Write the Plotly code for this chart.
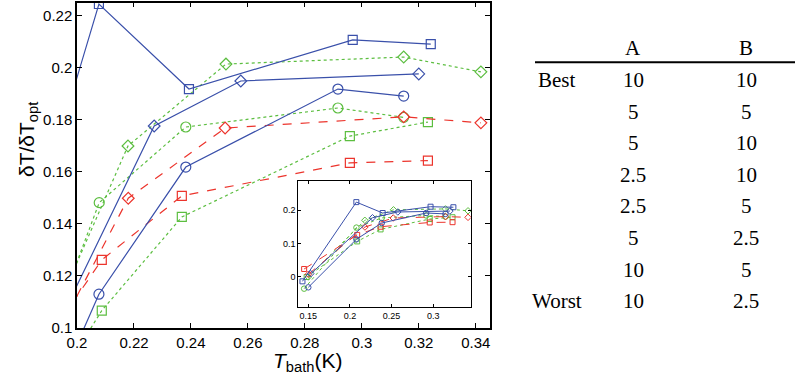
import plotly.graph_objects as go

W, H = 796, 383

# ---- data ----
bsq_x = [0.143, 0.2077, 0.2393, 0.2968, 0.3242]
bsq_y = [-0.013, 0.2246, 0.1919, 0.2108, 0.2092]
bdi_x = [0.153, 0.2271, 0.2575, 0.3200]
bdi_y = [0.010, 0.1777, 0.1950, 0.1977]
bci_x = [0.150, 0.2077, 0.2382, 0.2916, 0.3147]
bci_y = [-0.031, 0.1130, 0.1619, 0.1919, 0.1892]
gdi_x = [0.150, 0.2179, 0.2523, 0.3147, 0.3418]
gdi_y = [0.000, 0.1700, 0.2015, 0.2042, 0.1985]
gci_x = [0.145, 0.2078, 0.2382, 0.2916, 0.3147]
gci_y = [-0.035, 0.1482, 0.1773, 0.1846, 0.1810]
gsq_x = [0.148, 0.2087, 0.2368, 0.2958, 0.3232]
gsq_y = [0.000, 0.1067, 0.1427, 0.1738, 0.1792]
rdi_x = [0.150, 0.2180, 0.2520, 0.3147, 0.3418]
rdi_y = [0.008, 0.1499, 0.1769, 0.1812, 0.1789]
rsq_x = [0.145, 0.2087, 0.2368, 0.2958, 0.3232]
rsq_y = [0.024, 0.1262, 0.1508, 0.1635, 0.1644]

main_xticks = [0.2, 0.22, 0.24, 0.26, 0.28, 0.3, 0.32, 0.34]
main_xlabels = ["0.2", "0.22", "0.24", "0.26", "0.28", "0.3", "0.32", "0.34"]
main_yticks = [0.1, 0.12, 0.14, 0.16, 0.18, 0.2, 0.22]
main_ylabels = ["0.1", "0.12", "0.14", "0.16", "0.18", "0.2", "0.22"]
inset_xticks = [0.15, 0.2, 0.25, 0.3]
inset_xlabels = ["0.15", "0.2", "0.25", "0.3"]
inset_yticks = [0, 0.1, 0.2]
inset_ylabels = ["0", "0.1", "0.2"]

table_header = ["A", "B"]
table_rows = ["Best", "", "", "", "", "", "", "Worst"]
table_A = ["10", "5", "5", "2.5", "2.5", "5", "10", "10"]
table_B = ["10", "5", "10", "10", "5", "2.5", "5", "2.5"]

BLUE = "rgb(58,80,170)"
GREEN = "rgb(92,190,64)"
RED = "rgb(236,52,44)"

series = [
    (gdi_x, gdi_y, GREEN, "dot", "diamond-open"),
    (gci_x, gci_y, GREEN, "dot", "circle-open"),
    (gsq_x, gsq_y, GREEN, "dot", "square-open"),
    (rdi_x, rdi_y, RED, "dash", "diamond-open"),
    (rsq_x, rsq_y, RED, "dash", "square-open"),
    (bci_x, bci_y, BLUE, "solid", "circle-open"),
    (bdi_x, bdi_y, BLUE, "solid", "diamond-open"),
    (bsq_x, bsq_y, BLUE, "solid", "square-open"),
]

msize_main = {"square-open": 9, "circle-open": 10, "diamond-open": 9}
msize_inset = {"square-open": 5, "circle-open": 5.5, "diamond-open": 5}

fig = go.Figure()
for xs, ys, c, dash, sym in series:
    fig.add_trace(go.Scatter(x=xs, y=ys, mode="lines+markers", xaxis="x", yaxis="y",
                             line=dict(color=c, width=1.2, dash=dash),
                             marker=dict(symbol=sym, size=msize_main[sym], color=c,
                                         line=dict(width=1.2, color=c)),
                             showlegend=False, cliponaxis=True))
for xs, ys, c, dash, sym in series:
    fig.add_trace(go.Scatter(x=xs, y=ys, mode="lines+markers", xaxis="x2", yaxis="y2",
                             line=dict(color=c, width=1, dash=dash),
                             marker=dict(symbol=sym, size=msize_inset[sym], color=c,
                                         line=dict(width=1, color=c)),
                             showlegend=False))

def px2fx(px):
    return px / W

def py2fy(py):
    return (H - py) / H

axfont = dict(family="Liberation Sans, Arial, sans-serif", size=15, color="black")
infont = dict(family="Liberation Sans, Arial, sans-serif", size=9, color="black")

common = dict(showgrid=False, zeroline=False, showline=True, linecolor="black",
              mirror="ticks", tickcolor="black", tickwidth=1, ticks="inside",
              automargin=False)

fig.update_layout(
    width=W, height=H, margin=dict(l=0, r=0, t=0, b=0, autoexpand=False),
    plot_bgcolor="white", paper_bgcolor="white",
    xaxis=dict(domain=[px2fx(77), px2fx(490)], range=[0.2, 0.345],
               tickvals=main_xticks, ticktext=main_xlabels, ticklen=5,
               linewidth=1.5, tickfont=axfont, anchor="y", **common),
    yaxis=dict(domain=[py2fy(328), py2fy(2.7)], range=[0.1, 0.2251],
               tickvals=main_yticks, ticktext=main_ylabels, ticklen=5,
               linewidth=1.5, tickfont=axfont, anchor="x", **common),
    xaxis2=dict(domain=[px2fx(298.3), px2fx(470.7)], range=[0.138, 0.345],
                tickvals=inset_xticks, ticktext=inset_xlabels, ticklen=3,
                linewidth=1.2, tickfont=infont, anchor="y2", **common),
    yaxis2=dict(domain=[py2fy(307), py2fy(181.3)], range=[-0.09, 0.287],
                tickvals=inset_yticks, ticktext=inset_ylabels, ticklen=3,
                linewidth=1.2, tickfont=infont, anchor="x2", **common),
)

# white background for inset
fig.add_shape(type="rect", xref="paper", yref="paper",
              x0=px2fx(298.3), x1=px2fx(470.7), y0=py2fy(307), y1=py2fy(181.3),
              fillcolor="white", line=dict(width=0), layer="below")

annots = []
annots.append(dict(text="δT/δT<sub>opt</sub>", x=px2fx(28), y=py2fy(140), xref="paper", yref="paper",
                   showarrow=False, textangle=-90, xanchor="center", yanchor="middle",
                   font=dict(family="Liberation Sans, Arial, sans-serif", size=21, color="black")))
annots.append(dict(text="<i>T</i><sub>bath</sub>(K)", x=px2fx(307), y=py2fy(362), xref="paper", yref="paper",
                   showarrow=False, xanchor="center", yanchor="middle",
                   font=dict(family="Liberation Sans, Arial, sans-serif", size=21, color="black")))

serif = dict(family="Liberation Serif, DejaVu Serif, serif", size=21, color="black")
colA, colB, colR = 633, 746, 557
annots.append(dict(text=table_header[0], x=px2fx(colA), y=py2fy(48), xref="paper", yref="paper",
                   showarrow=False, xanchor="center", yanchor="middle", font=serif))
annots.append(dict(text=table_header[1], x=px2fx(colB), y=py2fy(48), xref="paper", yref="paper",
                   showarrow=False, xanchor="center", yanchor="middle", font=serif))
row_y0, row_dy = 80, 31.6
for i in range(len(table_A)):
    yy = py2fy(row_y0 + i * row_dy)
    if table_rows[i]:
        annots.append(dict(text=table_rows[i], x=px2fx(colR), y=yy, xref="paper", yref="paper",
                           showarrow=False, xanchor="center", yanchor="middle", font=serif))
    annots.append(dict(text=table_A[i], x=px2fx(colA), y=yy, xref="paper", yref="paper",
                       showarrow=False, xanchor="center", yanchor="middle", font=serif))
    annots.append(dict(text=table_B[i], x=px2fx(colB), y=yy, xref="paper", yref="paper",
                       showarrow=False, xanchor="center", yanchor="middle", font=serif))
fig.update_layout(annotations=annots)
fig.add_shape(type="line", xref="paper", yref="paper", x0=px2fx(535), x1=px2fx(795),
              y0=py2fy(62.3), y1=py2fy(62.3), line=dict(color="black", width=2))

fig.write_html("out.html")
